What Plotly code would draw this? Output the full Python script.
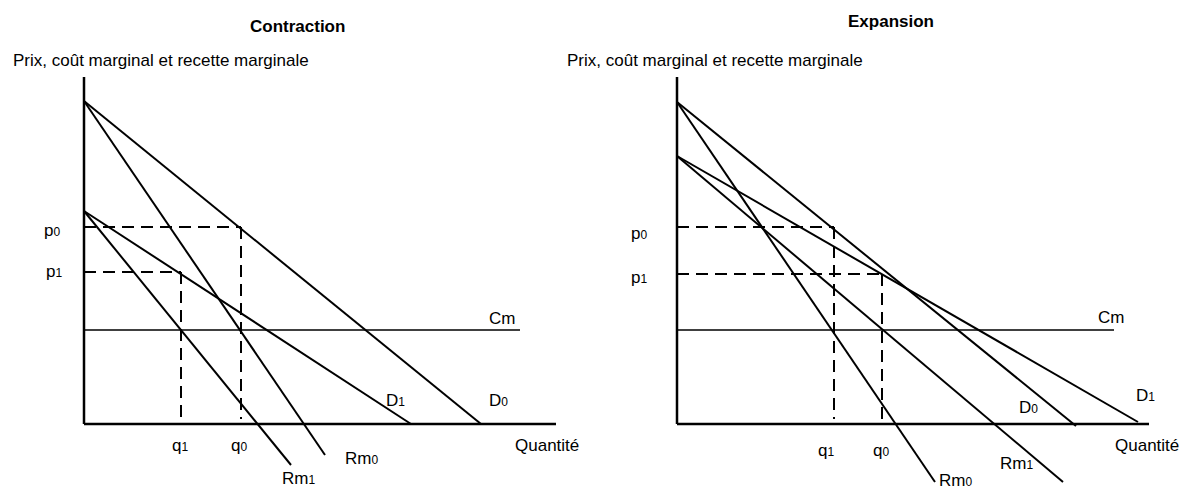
import plotly.graph_objects as go

# ---------------------------------------------------------------------------
# Monopole : effet d'une contraction et d'une expansion de la demande.
# Unités : quantité (abscisse) et prix (ordonnée), origine au coin des axes.
# ---------------------------------------------------------------------------

# --- Contraction ---
c_q_axis_end = 472          # longueur de l'axe des quantités
c_p_axis_end = 347          # hauteur de l'axe des prix
c_D0_q = [0, 397]
c_D0_p = [323, 0]
c_Rm0_q = [0, 241]
c_Rm0_p = [323, -31]
c_D1_q = [0, 327]
c_D1_p = [213, 0]
c_Rm1_q = [0, 207]
c_Rm1_p = [213, -41]
c_Cm = 94                   # coût marginal constant
c_Cm_end = 436
c_p0, c_q0 = 197, 157
c_p1, c_q1 = 152, 97

# --- Expansion ---
e_q_axis_end = 472
e_p_axis_end = 347
e_D0_q = [0, 399]
e_D0_p = [322, -2]
e_Rm0_q = [0, 258]
e_Rm0_p = [322, -58]
e_D1_q = [0, 461]
e_D1_p = [268, 2]
e_Rm1_q = [0, 386]
e_Rm1_p = [268, -58]
e_Cm = 94
e_Cm_end = 437
e_p0, e_q1 = 197, 157
e_p1, e_q0 = 150, 205

W, H = 1182, 489
FONT = "Liberation Sans, Arial, sans-serif"
BLACK = "#000000"

fig = go.Figure()


def seg(xs, ys, axis, width=2.0, dash=None):
    xa, ya = axis
    fig.add_trace(go.Scatter(
        x=xs, y=ys, mode="lines", xaxis=xa, yaxis=ya,
        line=dict(color=BLACK, width=width, dash=dash),
        hoverinfo="skip", showlegend=False,
    ))


DASH = "12px,7px"

# Panel 1 : contraction
ax1 = ("x", "y")
seg([0, 0], [0, c_p_axis_end], ax1, 2.5)
seg([0, c_q_axis_end], [0, 0], ax1, 2.5)
seg(c_D0_q, c_D0_p, ax1)
seg(c_Rm0_q, c_Rm0_p, ax1)
seg(c_D1_q, c_D1_p, ax1)
seg(c_Rm1_q, c_Rm1_p, ax1)
seg([0, c_Cm_end], [c_Cm, c_Cm], ax1, 1.6)
seg([0, c_q0], [c_p0, c_p0], ax1, 2, DASH)
seg([c_q0, c_q0], [c_p0, 5], ax1, 2, DASH)
seg([0, c_q1], [c_p1, c_p1], ax1, 2, DASH)
seg([c_q1, c_q1], [c_p1, 5], ax1, 2, DASH)

# Panel 2 : expansion
ax2 = ("x2", "y2")
seg([0, 0], [0, e_p_axis_end], ax2, 2.5)
seg([0, e_q_axis_end], [0, 0], ax2, 2.5)
seg(e_D0_q, e_D0_p, ax2)
seg(e_Rm0_q, e_Rm0_p, ax2)
seg(e_D1_q, e_D1_p, ax2)
seg(e_Rm1_q, e_Rm1_p, ax2)
seg([0, e_Cm_end], [e_Cm, e_Cm], ax2, 1.6)
seg([0, e_q1], [e_p0, e_p0], ax2, 2, DASH)
seg([e_q1, e_q1], [e_p0, 5], ax2, 2, DASH)
seg([0, e_q0], [e_p1, e_p1], ax2, 2, DASH)
seg([e_q0, e_q0], [e_p1, 5], ax2, 2, DASH)

annotations = []


def label(text, x, y, xref, yref, size=17, bold=False, anchor="left"):
    annotations.append(dict(
        text=f"<b>{text}</b>" if bold else text,
        x=x, y=y, xref=xref, yref=yref, xanchor=anchor, yanchor="middle",
        showarrow=False, font=dict(family=FONT, size=size, color=BLACK),
    ))


def idx(base, digit):
    # small index digit sitting close to the baseline
    return f'{base}<span style="font-size:12px">{digit}</span>'


# Titles
label("Contraction", 297 / W, 1 - 26.5 / H, "paper", "paper", 17, True, "center")
label("Expansion", 891 / W, 1 - 21.5 / H, "paper", "paper", 17, True, "center")

ylab = "Prix, coût marginal et recette marginale"
label(ylab, 11 / W, 1 - 60.5 / H, "paper", "paper")
label(ylab, 565 / W, 1 - 60.5 / H, "paper", "paper")

# Contraction labels
label(idx("p", 0), -42, c_p0 - 3, "x", "y")
label(idx("p", 1), -40, c_p1 + 1, "x", "y")
label(idx("q", 1), c_q1 - 11, -21, "x", "y")
label(idx("q", 0), c_q0 - 12, -21, "x", "y")
label(idx("Rm", 1), 196, -54, "x", "y")
label(idx("Rm", 0), 259, -34, "x", "y")
label(idx("D", 1), 300, 24, "x", "y")
label(idx("D", 0), 403, 24, "x", "y")
label("Cm", 403, c_Cm + 12, "x", "y")
label("Quantité", 429, -21, "x", "y")

# Expansion labels
label(idx("p", 0), -48, e_p0 - 6, "x2", "y2")
label(idx("p", 1), -48, e_p1 - 3, "x2", "y2")
label(idx("q", 1), e_q1 - 18, -26, "x2", "y2")
label(idx("q", 0), e_q0 - 11, -26, "x2", "y2")
label(idx("Rm", 0), 260, -56, "x2", "y2")
label(idx("Rm", 1), 321, -39, "x2", "y2")
label(idx("D", 0), 340, 17, "x2", "y2")
label(idx("D", 1), 457, 29, "x2", "y2")
label("Cm", 419, e_Cm + 13, "x2", "y2")
label("Quantité", 436, -21, "x2", "y2")

# One data unit per pixel; origins at (84, 424) and (677, 424)
hidden = dict(visible=False, fixedrange=True, showgrid=False, zeroline=False)
fig.update_layout(
    width=W, height=H, autosize=False,
    margin=dict(l=0, r=0, t=0, b=0),
    paper_bgcolor="white", plot_bgcolor="white",
    xaxis=dict(domain=[0, 591 / W], range=[-84, 591 - 84], **hidden),
    yaxis=dict(domain=[0, 1], range=[424 - H, 424], **hidden),
    xaxis2=dict(domain=[591 / W, 1], range=[591 - 677, W - 677], **hidden),
    yaxis2=dict(domain=[0, 1], range=[424 - H, 424], anchor="x2", **hidden),
    annotations=annotations,
    showlegend=False,
)
fig.write_html("out.html")
